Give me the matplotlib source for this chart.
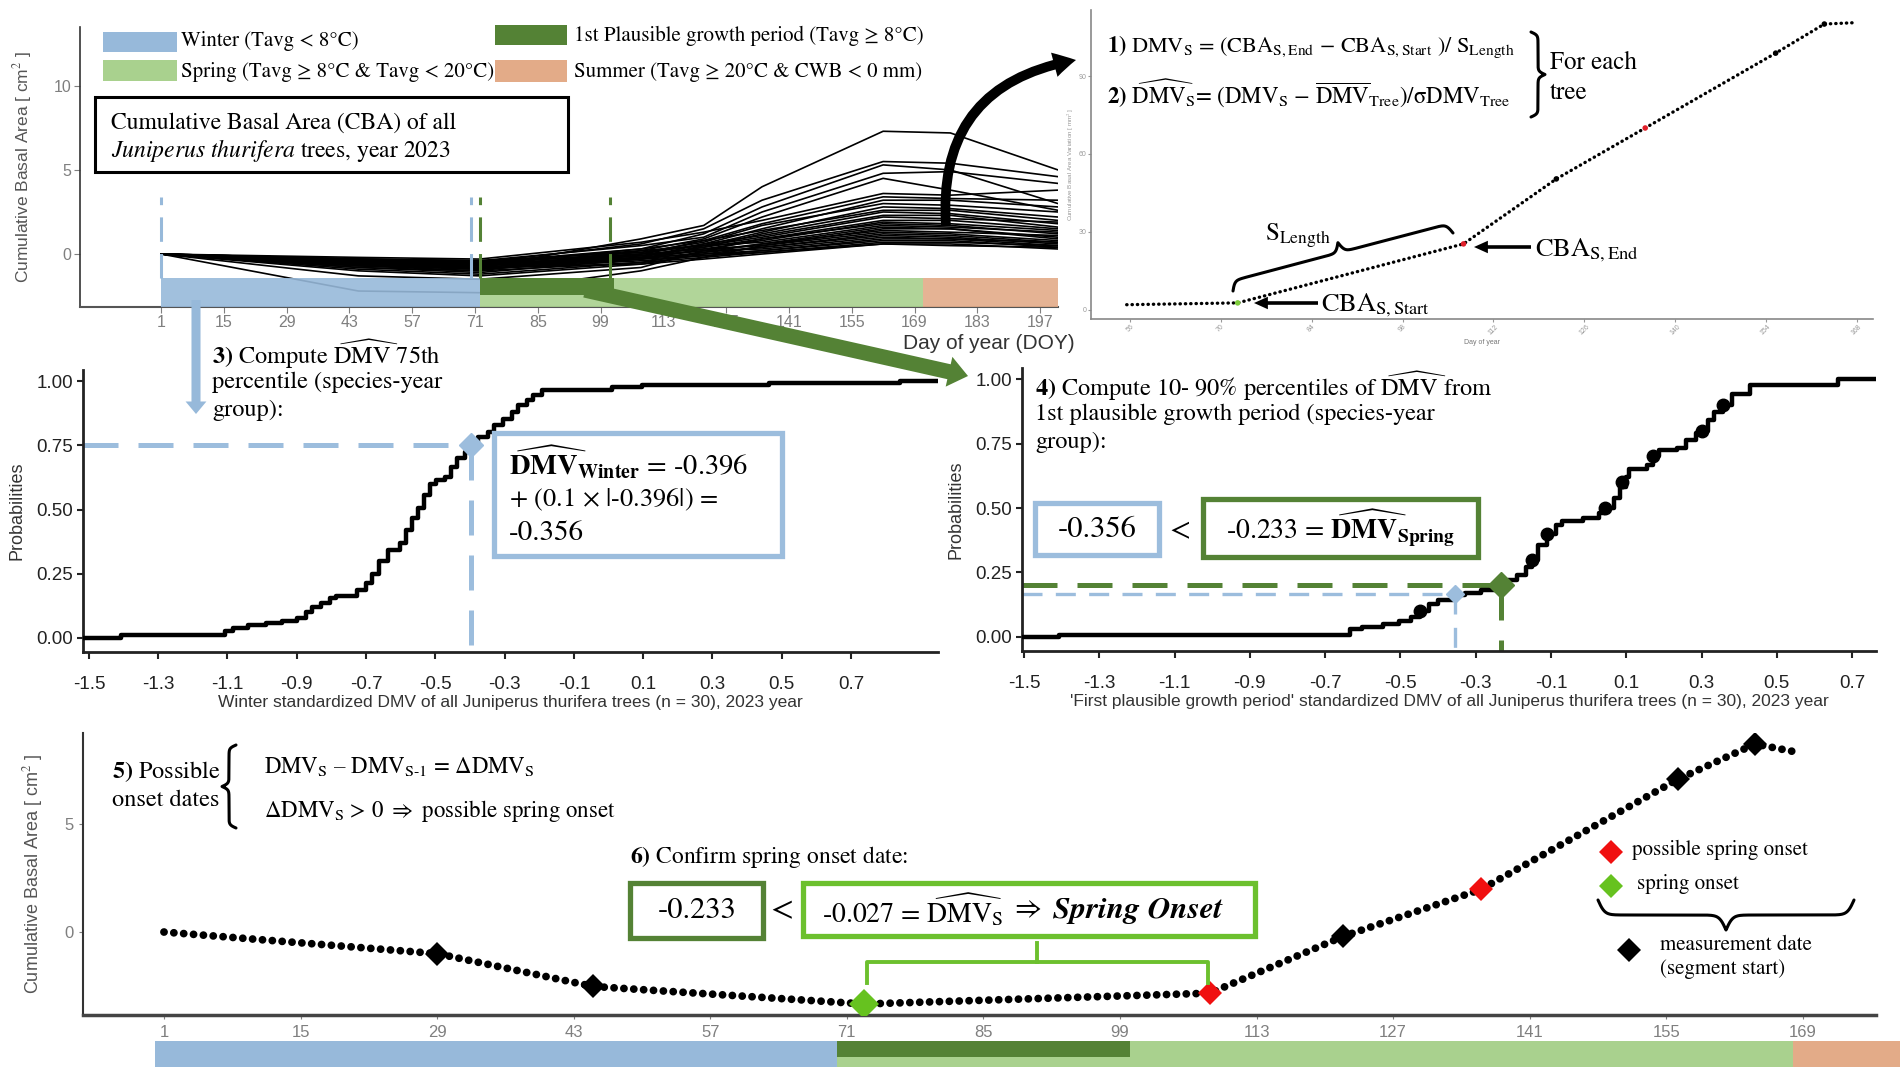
import numpy as np
import matplotlib
matplotlib.use("Agg")
import matplotlib.pyplot as plt
from matplotlib.patches import FancyArrowPatch, Rectangle

# ------------------------------------------------------------------ data
# Panel 1: cumulative basal area (cm2) of 30 trees at measurement dates (DOY)
cba_doy = [1, 45, 72, 108, 122, 135, 162, 177, 201]
cba_trees = [
    [0, -0.6, -0.8, 0.9, 1.7, 4.0, 7.3, 7.2, 5.0],
    [0, -0.4, -0.5, 0.6, 1.5, 3.2, 5.5, 5.4, 4.6],
    [0, -0.5, -0.6, 0.3, 1.2, 2.8, 5.3, 5.0, 3.0],
    [0, -0.3, -0.4, 0.5, 1.0, 2.5, 4.8, 4.9, 4.2],
    [0, -0.7, -1.0, 0.2, 0.9, 2.2, 4.5, 3.8, 2.6],
    [0, -0.2, -0.3, 0.7, 1.3, 2.0, 3.6, 3.5, 3.8],
    [0, -0.5, -0.7, 0.0, 0.8, 1.8, 3.4, 3.3, 3.2],
    [0, -0.6, -0.9, -0.2, 0.6, 1.5, 3.2, 3.2, 2.8],
    [0, -0.4, -0.6, 0.1, 0.7, 1.7, 3.0, 2.9, 2.5],
    [0, -0.8, -1.1, -0.3, 0.5, 1.3, 2.8, 2.7, 2.2],
    [0, -0.3, -0.5, 0.3, 0.8, 1.4, 2.6, 2.6, 2.0],
    [0, -0.5, -0.8, -0.1, 0.4, 1.2, 2.5, 2.4, 1.8],
    [0, -0.6, -0.7, 0.0, 0.6, 1.1, 2.3, 2.3, 1.6],
    [0, -0.4, -0.5, 0.2, 0.5, 1.0, 2.2, 2.1, 1.9],
    [0, -1.3, -1.5, -0.8, 0.2, 0.9, 2.0, 2.0, 1.5],
    [0, -0.7, -0.9, -0.3, 0.3, 0.8, 1.9, 1.8, 1.4],
    [0, -0.5, -0.6, -0.1, 0.4, 0.9, 1.8, 1.7, 1.2],
    [0, -0.3, -0.4, 0.1, 0.5, 0.7, 1.7, 1.6, 1.3],
    [0, -0.9, -1.2, -0.5, 0.1, 0.6, 1.6, 1.5, 1.0],
    [0, -2.2, -2.3, -1.0, -0.2, 0.5, 1.5, 1.5, 0.9],
    [0, -0.6, -0.8, -0.2, 0.2, 0.6, 1.4, 1.3, 1.1],
    [0, -0.4, -0.5, 0.0, 0.3, 0.5, 1.3, 1.2, 0.8],
    [0, -0.5, -0.7, -0.3, 0.1, 0.4, 1.2, 1.1, 0.7],
    [0, -1.0, -1.3, -0.6, 0.0, 0.4, 1.1, 1.0, 0.6],
    [0, -0.3, -0.4, -0.1, 0.2, 0.3, 1.0, 0.9, 0.5],
    [0, -0.6, -0.9, -0.4, -0.1, 0.2, 0.9, 0.9, 0.7],
    [0, -0.4, -0.6, -0.2, 0.0, 0.2, 0.8, 0.8, 0.4],
    [0, -0.8, -1.0, -0.5, -0.2, 0.1, 0.7, 0.7, 0.5],
    [0, -0.5, -0.6, -0.3, -0.1, 0.1, 0.6, 0.6, 0.3],
    [0, -0.7, -0.8, -0.6, -0.3, 0.0, 0.6, 0.5, 0.4],
]
top_doy_ticks = [1, 15, 29, 43, 57, 71, 85, 99, 113, 127, 141, 155, 169, 183, 197]
top_cba_ticks = [0, 5, 10]
top_periods_start = [1, 72, 171]          # winter, spring, summer
top_periods_end = [72, 171, 201]
top_first_period = [72, 102]
top_dash_blue = [1, 70]
top_dash_green = [72, 101]

# Panel 2: one tree, cumulative basal area variation (mm2)
seg_doy = [55.5, 72.6, 107.4, 121.7, 135.4, 155.5, 163.0, 167.5]
seg_cba = [2.0, 2.7, 25.4, 50.4, 70.0, 98.8, 110.0, 110.5]
seg_kind = ["none", "start", "end", "meas", "end", "meas", "meas", "none"]
inset_doy_ticks = [56, 70, 84, 98, 112, 126, 140, 154, 168]
inset_cba_ticks = [0, 30, 60, 90]

# Panel 3: ECDF of winter standardized DMV
winter_dmv = [-1.517, -1.407, -1.107, -1.084, -1.04, -0.988, -0.944, -0.90, -0.874, -0.856,
              -0.83, -0.804, -0.786, -0.725, -0.699, -0.682, -0.664, -0.638, -0.603, -0.585,
              -0.568, -0.55, -0.533, -0.515, -0.498, -0.472, -0.454, -0.437, -0.414, -0.396,
              -0.376, -0.349, -0.332, -0.306, -0.279, -0.262, -0.236, -0.218, -0.192, 0.009,
              0.097, 0.464, 0.84, 0.951]
winter_prob = [0.0, 0.013, 0.026, 0.039, 0.052, 0.058, 0.067, 0.078, 0.10, 0.12,
               0.135, 0.155, 0.165, 0.187, 0.213, 0.25, 0.30, 0.343, 0.37, 0.42,
               0.466, 0.505, 0.556, 0.60, 0.615, 0.627, 0.666, 0.70, 0.724, 0.75,
               0.783, 0.80, 0.828, 0.854, 0.88, 0.906, 0.925, 0.944, 0.964, 0.977,
               0.986, 0.992, 1.0, 1.0]
winter_q75 = [-0.396, 0.75]
dmv_ticks = [-1.5, -1.3, -1.1, -0.9, -0.7, -0.5, -0.3, -0.1, 0.1, 0.3, 0.5, 0.7]
prob_ticks = [0.0, 0.25, 0.5, 0.75, 1.0]

# Panel 4: ECDF of first plausible growth period standardized DMV
spring_dmv = [-1.505, -1.407, -0.634, -0.601, -0.545, -0.505, -0.473, -0.448, -0.424, -0.40,
              -0.36, -0.328, -0.287, -0.239, -0.215, -0.19, -0.167, -0.15, -0.134, -0.11,
              -0.086, -0.07, -0.014, 0.027, 0.043, 0.067, 0.083, 0.099, 0.107, 0.155,
              0.171, 0.188, 0.236, 0.26, 0.284, 0.30, 0.316, 0.333, 0.357, 0.381,
              0.429, 0.663, 0.7635]
spring_prob = [0.0, 0.006, 0.03, 0.039, 0.052, 0.061, 0.078, 0.10, 0.129, 0.142,
               0.162, 0.172, 0.181, 0.20, 0.22, 0.24, 0.272, 0.30, 0.356, 0.40,
               0.433, 0.45, 0.46, 0.479, 0.50, 0.537, 0.582, 0.621, 0.653, 0.666,
               0.70, 0.724, 0.731, 0.763, 0.789, 0.80, 0.84, 0.873, 0.90, 0.944,
               0.977, 1.0, 1.0]
spring_pct_dmv = [-0.448, -0.15, -0.11, 0.043, 0.09, 0.171, 0.30, 0.357]
spring_pct_prob = [0.1, 0.3, 0.4, 0.5, 0.6, 0.7, 0.8, 0.9]
spring_q20 = [-0.233, 0.2]
winter_threshold = [-0.356, 0.165]

# Panel 5: one tree, daily CBA with segment starts
onset_doy = [1, 29, 45, 72.8, 108.2, 121.9, 136.0, 156.2, 164.1, 168.3]
onset_cba = [0, -1.0, -2.52, -3.33, -2.83, -0.2, 1.97, 7.07, 8.7, 8.33]
onset_kind = ["none", "meas", "meas", "onset", "possible", "meas", "possible", "meas", "meas", "none"]
bottom_doy_ticks = [1, 15, 29, 43, 57, 71, 85, 99, 113, 127, 141, 155, 169]
bottom_cba_ticks = [0, 5]
bottom_periods_start = [0.1, 70, 168]
bottom_periods_end = [70, 168, 179]
bottom_first_period = [70, 100]

# ------------------------------------------------------------------ style
W, H = 1901, 1074
plt.rcParams["mathtext.fontset"] = "stix"
plt.rcParams["axes.unicode_minus"] = False
SANS = ["Liberation Sans Narrow", "Liberation Sans", "DejaVu Sans"]
REG = ["Liberation Sans", "DejaVu Sans"]
SERIF = ["STIXGeneral", "DejaVu Serif"]
plt.rcParams["font.family"] = SANS

C_WIN = "#97B9DA"
C_SPR = "#A9D18E"
C_FST = "#548235"
C_SUM = "#E3AB88"
C_LGR = "#6CC02E"
C_BLUEBOX = "#9CBDDD"
GRAY = "#7F7F7F"

fig = plt.figure(figsize=(W / 100, H / 100), dpi=100)


def px_axes(l, t, r, b, **kw):
    return fig.add_axes([l / W, 1 - b / H, (r - l) / W, (b - t) / H], **kw)


def colors_of(kinds, mapping):
    return [mapping[k] for k in kinds]


# ------------------------------------------------------------------ panel 1
ax1 = px_axes(80, 27, 1058, 307)
for tree in cba_trees:
    ax1.plot(cba_doy, tree, color="black", lw=1.2, zorder=3)
period_cols = [C_WIN, C_SPR, C_SUM]
for s, e, c in zip(top_periods_start, top_periods_end, period_cols):
    ax1.add_patch(Rectangle((s, -3.15), e - s, 1.72, color=c, lw=0, zorder=4, alpha=0.9))
ax1.add_patch(Rectangle((top_first_period[0], -2.44), top_first_period[1] - top_first_period[0],
                        1.01, color=C_FST, lw=0, zorder=4.5))
ax1.vlines(top_dash_blue, -1.43, 3.4, colors=C_WIN, lw=2.2, linestyles=(0, (8, 4)), zorder=5)
ax1.vlines(top_dash_green, -1.43, 3.4, colors=C_FST, lw=2.2, linestyles=(0, (8, 4)), zorder=5)
ax1.set_xlim(-17.1, 201)
ax1.set_ylim(-3.15, 13.5)
ax1.set_xticks(top_doy_ticks)
ax1.set_yticks(top_cba_ticks)
for sp in ["top", "right"]:
    ax1.spines[sp].set_visible(False)
ax1.spines["left"].set_color("#333333")
ax1.spines["left"].set_linewidth(1.2)
ax1.spines["bottom"].set_color("#555555")
ax1.spines["bottom"].set_linewidth(1.5)
ax1.tick_params(colors=GRAY, labelsize=11.5, length=4, pad=2)
ax1.set_facecolor("none")
ax1.set_ylabel("Cumulative Basal Area [ cm$^2$ ]", fontsize=12.5, color="#555555", labelpad=14)
ax1.text(1.017, -0.095, "Day of year (DOY)", transform=ax1.transAxes, ha="right", va="top",
         fontsize=15, color="#333333")

# ------------------------------------------------------------------ panel 2 (inset)
ax2 = px_axes(1091, 10, 1873, 319)
ax2.plot(seg_doy, seg_cba, color="black", lw=2.4, ls=(0, (0.1, 1.5)), dash_capstyle="round",
         solid_capstyle="round")
kmap2 = {"none": "none", "start": "#7DCB3A", "end": "#E0202A", "meas": "black"}
ax2.scatter(seg_doy, seg_cba, s=16, c=colors_of(seg_kind, kmap2), zorder=3, lw=0)
ax2.set_xlim(50.0, 170.5)
ax2.set_ylim(-3.5, 115.4)
ax2.set_xticks(inset_doy_ticks)
ax2.set_yticks(inset_cba_ticks)
ax2.tick_params(colors="#999999", labelsize=5, length=2, pad=1)
plt.setp(ax2.get_xticklabels(), rotation=45)
for sp in ["top", "right"]:
    ax2.spines[sp].set_visible(False)
for sp in ["left", "bottom"]:
    ax2.spines[sp].set_color("#888888")
    ax2.spines[sp].set_linewidth(1.2)
ax2.set_xlabel("Day of year", fontsize=5, color="#777777", labelpad=2)
ax2.set_ylabel("Cumulative Basal Area Variation [ mm$^2$ ]", fontsize=4.5, color="#999999", labelpad=2)
ax2.set_facecolor("none")

# ------------------------------------------------------------------ panel 3
def ecdf_axes(ax, xlim):
    ax.set_xlim(*xlim)
    ax.set_ylim(-0.0545, 1.043)
    ax.set_xticks(dmv_ticks)
    ax.set_yticks(prob_ticks)
    ax.set_yticklabels([f"{v:.2f}" for v in prob_ticks])
    for sp in ["top", "right"]:
        ax.spines[sp].set_visible(False)
    for sp in ["left", "bottom"]:
        ax.spines[sp].set_linewidth(2)
        ax.spines[sp].set_color("#222222")
    ax.tick_params(axis="x", colors="#222222", labelsize=13.5, length=5, width=1.5, pad=12)
    ax.tick_params(axis="y", colors="#222222", labelsize=13.5, length=4, width=1.5, pad=3)
    ax.set_ylabel("Probabilities", fontsize=13, color="#333333", family=REG, labelpad=8)
    ax.set_facecolor("none")


ax3 = px_axes(83, 370, 938, 652)
ax3.plot(winter_dmv, winter_prob, drawstyle="steps-post", color="black", lw=3.2, zorder=3)
ecdf_axes(ax3, (-1.517, 0.951))
ax3.plot([-1.517, winter_q75[0]], [winter_q75[1], winter_q75[1]], color=C_BLUEBOX, lw=3.6,
         ls=(0, (7, 4)), zorder=2)
ax3.plot([winter_q75[0], winter_q75[0]], [winter_q75[1], -0.0545], color=C_BLUEBOX, lw=3.6,
         ls=(0, (7, 4)), zorder=2)
ax3.plot([winter_q75[0]], [winter_q75[1]], marker="D", ms=12, color=C_BLUEBOX, zorder=4)
ax3.set_xlabel("Winter standardized DMV of all Juniperus thurifera trees (n = 30), 2023 year",
               fontsize=12.5, color="#333333", family=REG, labelpad=2)

# ------------------------------------------------------------------ panel 4
ax4 = px_axes(1022, 368, 1876, 651)
ax4.plot(spring_dmv, spring_prob, drawstyle="steps-post", color="black", lw=3.2, zorder=3)
ecdf_axes(ax4, (-1.5053, 0.7635))
ax4.plot(spring_pct_dmv, spring_pct_prob, "o", color="black", ms=9, zorder=4)
ax4.plot([-1.5053, spring_q20[0]], [spring_q20[1], spring_q20[1]], color=C_FST, lw=3.6,
         ls=(0, (7, 4)), zorder=2)
ax4.plot([spring_q20[0], spring_q20[0]], [spring_q20[1], -0.0545], color=C_FST, lw=3.6,
         ls=(0, (7, 4)), zorder=2)
ax4.plot([-1.5053, winter_threshold[0]], [winter_threshold[1], winter_threshold[1]],
         color=C_BLUEBOX, lw=2.4, ls=(0, (6, 4)), zorder=2)
ax4.plot([winter_threshold[0], winter_threshold[0]], [winter_threshold[1], -0.0545],
         color=C_BLUEBOX, lw=2.4, ls=(0, (6, 4)), zorder=2)
ax4.plot([spring_q20[0]], [spring_q20[1]], marker="D", ms=13, color=C_FST, zorder=5)
ax4.plot([winter_threshold[0]], [winter_threshold[1]], marker="D", ms=9, color=C_BLUEBOX, zorder=5)
ax4.set_xlabel("'First plausible growth period' standardized DMV of all Juniperus thurifera trees (n = 30), 2023 year",
               fontsize=12.5, color="#333333", family=REG, labelpad=2)

# ------------------------------------------------------------------ panel 5
ax5 = px_axes(83, 733, 1876, 1015)
ax5.plot(onset_doy, onset_cba, color="black", lw=5.6, ls=(0, (0.01, 1.26)),
         dash_capstyle="round", zorder=3)
kmap5 = {"none": "none", "meas": "black", "onset": "#66C21F", "possible": "#F01010"}
kms = {"none": 0, "meas": 12, "onset": 15, "possible": 12}
for x, y, k in zip(onset_doy, onset_cba, onset_kind):
    if k != "none":
        ax5.plot([x], [y], marker="D", ms=kms[k], color=kmap5[k], zorder=4, mew=0)
ax5.set_xlim(-7.3, 176.5)
ax5.set_ylim(-3.84, 9.21)
ax5.set_xticks(bottom_doy_ticks)
ax5.set_yticks(bottom_cba_ticks)
for sp in ["top", "right"]:
    ax5.spines[sp].set_visible(False)
ax5.spines["left"].set_color("#333333")
ax5.spines["left"].set_linewidth(1.5)
ax5.spines["bottom"].set_color("#444444")
ax5.spines["bottom"].set_linewidth(2.5)
ax5.tick_params(colors=GRAY, labelsize=12, length=3, pad=4)
ax5.set_ylabel("Cumulative Basal Area [ cm$^2$ ]", fontsize=13, color="#555555", labelpad=14)
ax5.set_facecolor("none")

ax5b = px_axes(83, 1041, 1876, 1067)
for s, e, c in zip(bottom_periods_start, bottom_periods_end, period_cols):
    ax5b.add_patch(Rectangle((s, 0), e - s, 1, color=c, lw=0, clip_on=False))
ax5b.add_patch(Rectangle((bottom_first_period[0], 0.38), bottom_first_period[1] - bottom_first_period[0],
                         0.62, color=C_FST, lw=0, clip_on=False))
ax5b.set_xlim(-7.3, 176.5)
ax5b.set_ylim(0, 1)
ax5b.axis("off")

# ------------------------------------------------------------------ overlay annotations (pixel coords)
ov = fig.add_axes([0, 0, 1, 1], zorder=10)
ov.set_xlim(0, W)
ov.set_ylim(H, 0)
ov.axis("off")
ov.patch.set_alpha(0)


def T(x, y, s, size=16, ha="left", va="center", **kw):
    ov.text(x, y, s, fontsize=size, family=SERIF, ha=ha, va=va, color="black", **kw)


def box(l, t, r, b, ec, lw=3.5):
    ov.add_patch(Rectangle((l, t), r - l, b - t, fc="white", ec=ec, lw=lw, zorder=1))


def brace(p0, p1, w, side=1, color="black", lw=2.2):
    p0 = np.asarray(p0, float)
    p1 = np.asarray(p1, float)
    d = p1 - p0
    L = np.hypot(*d)
    u = d / L
    nrm = np.array([-u[1], u[0]]) * side
    s = np.linspace(0, L / 2, 200)
    beta = 9.0 / w
    half = 1 / (1 + np.exp(-beta * (s - s[0]))) + 1 / (1 + np.exp(-beta * (s - s[-1])))
    prof = np.concatenate([half, half[-2::-1]]) - 0.5
    ss = np.concatenate([s, L - s[-2::-1]])
    pts = p0[None, :] + ss[:, None] * u[None, :] + (prof * w)[:, None] * nrm[None, :]
    ov.plot(pts[:, 0], pts[:, 1], color=color, lw=lw, solid_capstyle="round")


def arrow(p0, p1, style, color, rad=0.0, zorder=2):
    ov.add_patch(FancyArrowPatch(p0, p1, arrowstyle=style, color=color, lw=0,
                                 connectionstyle=f"arc3,rad={rad}", zorder=zorder,
                                 shrinkA=0, shrinkB=0))


# panel 1 legend
ov.add_patch(Rectangle((103, 32), 74, 20, color=C_WIN, lw=0))
ov.add_patch(Rectangle((103, 60), 74, 21, color=C_SPR, lw=0))
ov.add_patch(Rectangle((495, 25), 72, 20, color=C_FST, lw=0))
ov.add_patch(Rectangle((495, 60), 72, 22, color=C_SUM, lw=0))
T(181, 41, "Winter (Tavg < 8°C)", 15)
T(181, 72, "Spring (Tavg ≥ 8°C & Tavg < 20°C)", 15)
T(574, 36, "1st Plausible growth period (Tavg ≥ 8°C)", 15)
T(574, 72, "Summer (Tavg ≥ 20°C & CWB < 0 mm)", 15)
box(95, 97, 568, 172, "black", lw=2.2)
T(111, 123, "Cumulative Basal Area (CBA) of all", 17)
T(111, 151, r"$\it{Juniperus\ thurifera}$ trees, year 2023", 17)

# panel 2 annotations
T(1107, 47, r"$\mathbf{1)}$ DMV$_\mathrm{S}$ = (CBA$_\mathrm{S,End}$ $-$ CBA$_\mathrm{S,Start}$ )/ S$_\mathrm{Length}$", 16)
T(1107, 93, r"$\mathbf{2)}$ $\widehat{\mathrm{DMV}}_\mathrm{S}$= (DMV$_\mathrm{S}$ $-$ $\overline{\mathrm{DMV}}_\mathrm{Tree}$)/σDMV$_\mathrm{Tree}$", 16.5)
brace((1531, 32), (1531, 117), 14, side=-1)
T(1550, 63, "For each", 18)
T(1550, 93, "tree", 18)
brace((1233, 291), (1453, 233), 20, side=-1)
T(1265, 236, r"S$_\mathrm{Length}$", 18)
arrow((1531, 247), (1474, 247), "simple,head_width=9,head_length=10,tail_width=2.6", "black")
T(1535, 250, r"CBA$_\mathrm{S,End}$", 19)
arrow((1318, 303), (1254, 303), "simple,head_width=9,head_length=10,tail_width=2.6", "black")
T(1321, 305, r"CBA$_\mathrm{S,Start}$", 19)

# big curved arrow
arrow((946, 226), (1076, 60), "simple,head_width=18,head_length=16,tail_width=7", "black", rad=-0.45, zorder=3)

# blue and green arrows
arrow((196, 300), (196, 414), "simple,head_width=15,head_length=9,tail_width=6.5", C_WIN, zorder=3)
arrow((585, 290), (968, 376), "simple,head_width=22,head_length=14,tail_width=11", C_FST, zorder=3)

# panel 3 annotations
T(212, 354, r"$\mathbf{3)}$ Compute $\widehat{\mathrm{DMV}}$ 75th", 17.5)
T(212, 382, "percentile (species-year", 17.5)
T(212, 410, "group):", 17.5)
box(494, 433, 782, 556, C_BLUEBOX, lw=3.8)
T(509, 463, r"$\widehat{\mathbf{DMV}}_{\mathbf{Winter}}$ = -0.396", 20.5)
T(509, 500, r"$+$ (0.1 × |-0.396|) =", 19)
T(509, 533, "-0.356", 21)

# panel 4 annotations
T(1035, 386, r"$\mathbf{4)}$ Compute 10- 90% percentiles of $\widehat{\mathrm{DMV}}$ from", 17.5)
T(1035, 414, "1st plausible growth period (species-year", 17.5)
T(1035, 442, "group):", 17.5)
box(1035, 503, 1159, 555, C_BLUEBOX, lw=3.8)
T(1097, 530, "-0.356", 22, ha="center")
T(1180, 530, "<", 22, ha="center")
box(1203, 499, 1478, 557, C_FST, lw=3.8)
T(1226, 528, r"-0.233 = $\widehat{\mathbf{DMV}}_{\mathbf{Spring}}$", 20)

# panel 5 annotations
T(112, 772, r"$\mathbf{5)}$ Possible", 17.5)
T(112, 800, "onset dates", 17.5)
brace((236, 745), (236, 828), 14, side=1)
T(264, 767, r"DMV$_\mathrm{S}$ – DMV$_\mathrm{S{\text{-}}1}$ = ΔDMV$_\mathrm{S}$", 16.5)
T(264, 811, r"ΔDMV$_\mathrm{S}$ > 0 $\Rightarrow$ possible spring onset", 16.5)
T(630, 857, r"$\mathbf{6)}$ Confirm spring onset date:", 17)
box(630, 883, 763, 938, C_FST, lw=3.8)
T(697, 911, "-0.233", 22, ha="center")
T(782, 911, "<", 24, ha="center")
box(803, 883, 1255, 936, C_LGR, lw=3.8)
T(822, 910, r"-0.027 = $\widehat{\mathrm{DMV}}_\mathrm{S}$", 20)
T(1010, 910, r"$\Rightarrow$", 21)
T(1053, 910, "Spring Onset", 22.5, fontweight="bold", fontstyle="italic")
ov.plot([867, 867, 1208, 1208], [983, 962, 962, 983], color=C_LGR, lw=2.8)
ov.plot([1037, 1037], [962, 943], color=C_LGR, lw=2.8)

# bottom legend
ov.plot([1611], [852], marker="D", ms=12, color="#F01010", mew=0)
T(1632, 850, "possible spring onset", 15)
ov.plot([1611], [886], marker="D", ms=12, color="#66C21F", mew=0)
T(1637, 884, "spring onset", 15)
brace((1598, 900), (1854, 900), 30, side=1)
ov.plot([1629], [950], marker="D", ms=12, color="black", mew=0)
T(1660, 945, "measurement date", 15)
T(1660, 969, "(segment start)", 15)

fig.savefig("out.png", dpi=100)
